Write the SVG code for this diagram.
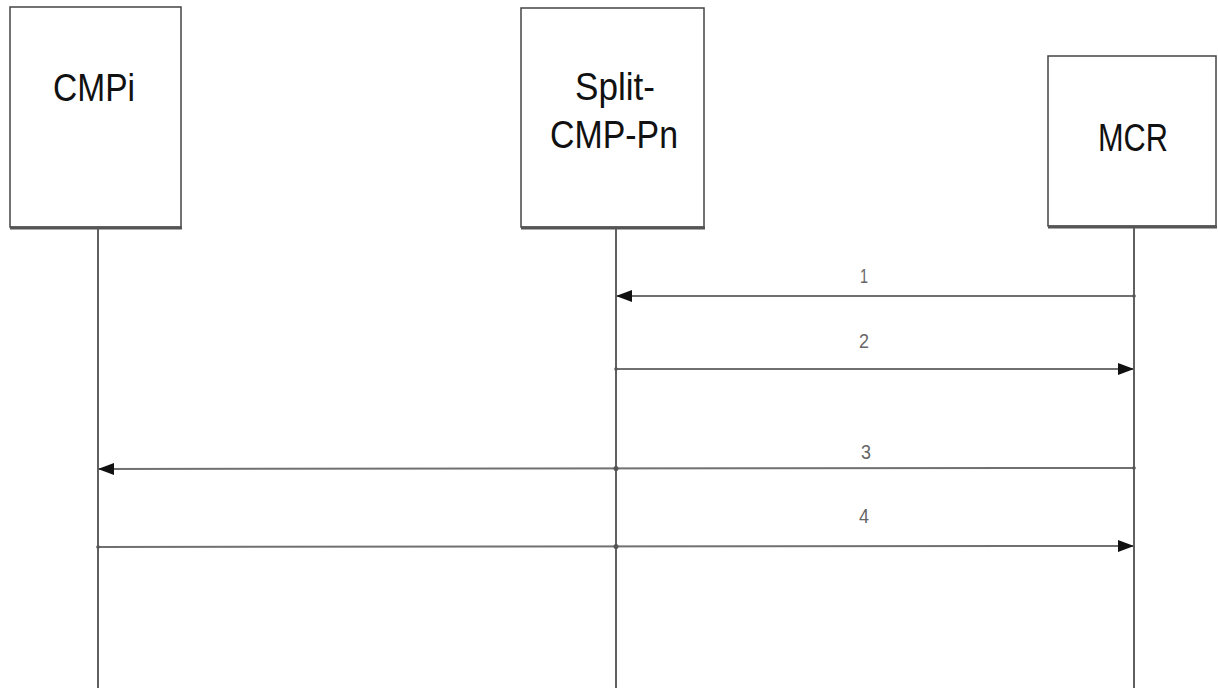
<svg xmlns="http://www.w3.org/2000/svg" width="1218" height="688" viewBox="0 0 1218 688">
  <defs>
    <marker id="head" viewBox="0 0 16 12" refX="16" refY="6" markerWidth="16" markerHeight="12" markerUnits="userSpaceOnUse" orient="auto">
      <path d="M0,0 L16,6 L0,12 Z" fill="#111"/>
    </marker>
    <style>
      .box { fill: #fff; stroke: #444; stroke-width: 1.5; }
      .base { stroke: #555; stroke-width: 3; }
      .name { font-family: "Liberation Sans", Arial, sans-serif; font-size: 39px; fill: #111; text-anchor: middle; }
      .life { stroke: #606060; stroke-width: 2; fill: none; }
      .msg { stroke: #707070; stroke-width: 2; fill: none; }
      .num { font-family: "Liberation Sans", Arial, sans-serif; font-size: 21px; fill: #666; text-anchor: middle; }
      .dot { fill: #555; }
    </style>
  </defs>
  <rect width="1218" height="688" fill="#fff"/>

  <!-- participants -->
  <g id="cmpi">
    <rect class="box" x="10" y="7" width="171" height="220"/>
    <line class="base" x1="10" y1="228" x2="182" y2="228"/>
    <text class="name" x="94" y="101" textLength="82" lengthAdjust="spacingAndGlyphs">CMPi</text>
  </g>
  <g id="split-cmp-pn">
    <rect class="box" x="521" y="8" width="183" height="219"/>
    <line class="base" x1="521" y1="228" x2="705" y2="228"/>
    <text class="name" x="615" y="100" textLength="80" lengthAdjust="spacingAndGlyphs">Split-</text>
    <text class="name" x="614" y="148" textLength="128" lengthAdjust="spacingAndGlyphs">CMP-Pn</text>
  </g>
  <g id="mcr">
    <rect class="box" x="1048" y="56" width="168" height="170"/>
    <line class="base" x1="1048" y1="227" x2="1217" y2="227"/>
    <text class="name" x="1133" y="151" textLength="70" lengthAdjust="spacingAndGlyphs">MCR</text>
  </g>

  <!-- lifelines and messages -->
  <g id="connectors">
    <line class="life" x1="98" y1="229" x2="98" y2="688"/>
    <line class="life" x1="616" y1="229" x2="616" y2="688"/>
    <line class="life" x1="1134" y1="228" x2="1134" y2="688"/>

    <line class="msg" x1="1134" y1="296" x2="616" y2="296" marker-end="url(#head)"/>
    <text class="num" x="864" y="283" textLength="8" lengthAdjust="spacingAndGlyphs">1</text>

    <line class="msg" x1="616" y1="369" x2="1134" y2="369" marker-end="url(#head)"/>
    <text class="num" x="864" y="348" textLength="10" lengthAdjust="spacingAndGlyphs">2</text>

    <line class="msg" x1="1134" y1="468" x2="98" y2="469" marker-end="url(#head)"/>
    <text class="num" x="866" y="459" textLength="10" lengthAdjust="spacingAndGlyphs">3</text>

    <line class="msg" x1="98" y1="547" x2="1134" y2="546" marker-end="url(#head)"/>
    <text class="num" x="864" y="523" textLength="10" lengthAdjust="spacingAndGlyphs">4</text>

    <circle class="dot" cx="616" cy="468.5" r="2.5"/>
    <circle class="dot" cx="616" cy="546.5" r="2.5"/>
    <circle class="dot" cx="1134" cy="296" r="1.8"/>
    <circle class="dot" cx="616" cy="369" r="1.8"/>
    <circle class="dot" cx="1134" cy="468" r="1.8"/>
    <circle class="dot" cx="98" cy="547" r="1.8"/>
  </g>
</svg>
